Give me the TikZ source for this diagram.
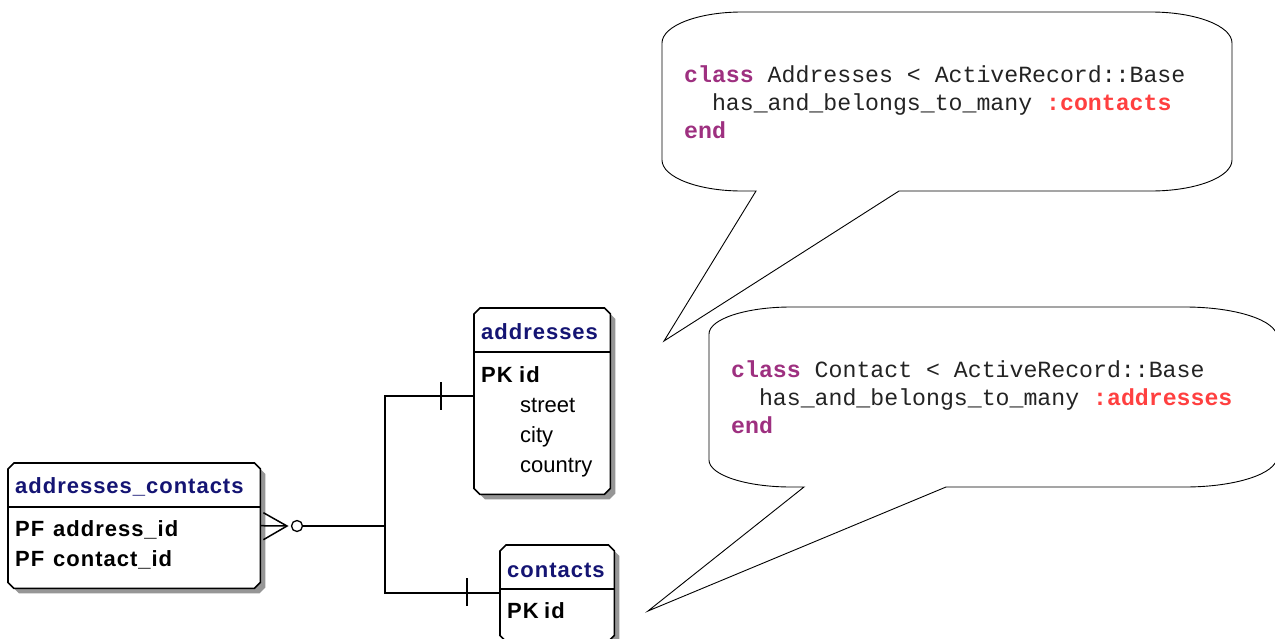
\documentclass[tikz,border=0pt]{standalone}
\usepackage{fontspec}
\setmainfont{Liberation Sans}
\newfontfamily\erfont[LetterSpace=4.5]{Liberation Sans}
\newfontfamily\codefont{Liberation Mono}
\usetikzlibrary{calc}

\definecolor{entitytitle}{RGB}{20,20,115}
\definecolor{rubykw}{RGB}{158,48,128}
\definecolor{rubysym}{RGB}{255,64,64}
\definecolor{codeink}{RGB}{35,35,35}
\definecolor{shadowgrey}{RGB}{150,150,150}

\tikzset{
  % outline of an entity box with clipped corners, optionally offset (for the shadow)
  chamferpath/.style 2 args={insert path={
    ($(#1.north west)+(#2+6,#2)$) -- ($(#1.north east)+(#2-6,#2)$) --
    ($(#1.north east)+(#2,#2+6)$) -- ($(#1.south east)+(#2,#2-6)$) --
    ($(#1.south east)+(#2-6,#2)$) -- ($(#1.south west)+(#2+6,#2)$) --
    ($(#1.south west)+(#2,#2-6)$) -- ($(#1.north west)+(#2,#2+6)$) -- cycle}},
  entity/.style={rectangle, draw=none, inner sep=0pt, anchor=north west},
  erline/.style={line width=1.6pt, black},
  ertitle/.style={anchor=base west, inner sep=0pt, text=entitytitle,
    font=\erfont\bfseries\fontsize{22}{26}\selectfont},
  erkey/.style={anchor=base west, inner sep=0pt, text=black,
    font=\erfont\bfseries\fontsize{22}{26}\selectfont},
  erattr/.style={anchor=base west, inner sep=0pt, text=black,
    font=\fontsize{22}{26}\selectfont},
  conn/.style={line width=1.5pt, black},
  ring/.style={circle, draw, line width=1.3pt, fill=white, inner sep=0pt, minimum size=11pt},
  bubble/.style={draw=black, line width=0.9pt, fill=white, line join=miter},
  code/.style={anchor=base west, inner sep=0pt, text=codeink,
    font=\codefont\fontsize{23.2}{28}\selectfont},
}

\begin{document}
\begin{tikzpicture}[x=1pt, y=-1pt]
\clip (0,0) rectangle (1275,638);
\fill[white] (0,0) rectangle (1275,638);

% ---------- entities ----------
\node[entity, minimum width=252pt, minimum height=125pt] (ac)  at (8,463) {};
\node[entity, minimum width=136pt, minimum height=186pt] (adr) at (474,308) {};
\node[entity, minimum width=114pt, minimum height=96pt]  (con) at (500,545) {};

\foreach \e in {ac,adr,con} {
  \fill[shadowgrey, chamferpath={\e}{5}];
}
\foreach \e in {ac,adr,con} {
  \draw[erline, fill=white, chamferpath={\e}{0}];
  \draw[erline] ($(\e.north west)+(0,44)$) -- ($(\e.north east)+(0,44)$);
}

% addresses_contacts
\node[ertitle] (actitle) at (15,493) {addresses\_contacts};
\node[erkey] (acpf1) at (15,536) {PF};
\node[erkey] (acaddr) at (53,536) {address\_id};
\node[erkey] (acpf2) at (15,566) {PF};
\node[erkey] (accont) at (53,566) {contact\_id};

% addresses
\node[ertitle] (adrtitle) at (481,339) {addresses};
\node[erkey] (adrpk) at (481,382) {PK};
\node[erkey] (adrid) at (519,382) {id};
\node[erattr] (adrstreet) at (520,412) {street};
\node[erattr] (adrcity) at (520,442) {city};
\node[erattr] (adrcountry) at (520,472) {country};

% contacts
\node[ertitle] (contitle) at (507,577) {contacts};
\node[erkey] (conpk) at (507,618) {PK};
\node[erkey] (conid) at (544,618) {id};

% ---------- relationship lines ----------
\coordinate (jn) at (385,526);
\coordinate (cf) at (287,526);
\draw[conn] (ac.east) -- (cf);
\draw[conn] ($(ac.east)+(3,-13)$) -- (cf) -- ($(ac.east)+(3,14)$);
\node[ring] (acring) at (297,526) {};
\draw[conn] (acring.east) -- (jn);
\draw[conn] ([yshift=5pt]adr.west) -| (jn) |- (con.west);
% "one" ticks
\draw[conn] ($(adr.west)+(-33,-19)$) -- ++(0,28);
\draw[conn] ($(con.west)+(-33,-15)$) -- ++(0,28);

% ---------- speech bubbles ----------
\draw[bubble] (662,43) arc[start angle=180, end angle=270, x radius=80, y radius=31]
  -- (1151,12) arc[start angle=270, end angle=360, x radius=81, y radius=31]
  -- (1232,160) arc[start angle=0, end angle=90, x radius=81, y radius=31]
  -- (899,191) -- (664,341) -- (756,191)
  -- (742,191) arc[start angle=90, end angle=180, x radius=80, y radius=31]
  -- cycle;

\draw[bubble] (709,334) arc[start angle=180, end angle=270, x radius=82, y radius=27]
  -- (1185,307) arc[start angle=270, end angle=360, x radius=92, y radius=30]
  -- (1277,457) arc[start angle=0, end angle=90, x radius=92, y radius=30]
  -- (946,487) -- (648,611) -- (804,487)
  -- (791,487) arc[start angle=90, end angle=180, x radius=82, y radius=27]
  -- cycle;

% ---------- model code ----------
\node[code] (addrcls) at (684,82) {\textcolor{rubykw}{\bfseries class} Addresses < ActiveRecord::Base};
\node[code] (addrrel) at (684,110) {\phantom{cl}has\_and\_belongs\_to\_many \textcolor{rubysym}{\bfseries :contacts}};
\node[code] (addrend) at (684,138) {\textcolor{rubykw}{\bfseries end}};

\node[code] (contcls) at (731,377) {\textcolor{rubykw}{\bfseries class} Contact < ActiveRecord::Base};
\node[code] (contrel) at (731,405) {\phantom{cl}has\_and\_belongs\_to\_many \textcolor{rubysym}{\bfseries :addresses}};
\node[code] (contend) at (731,433) {\textcolor{rubykw}{\bfseries end}};
\end{tikzpicture}
\end{document}
